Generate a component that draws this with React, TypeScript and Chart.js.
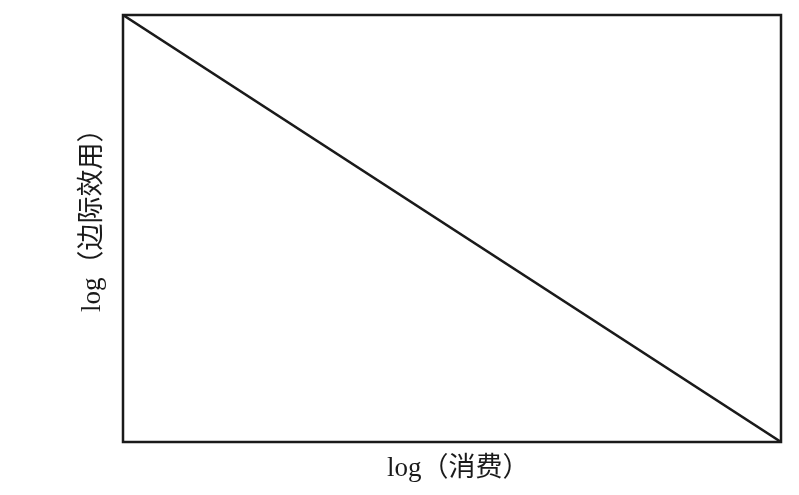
import React, { useEffect, useRef } from "react";
import { Chart, registerables } from "chart.js";

Chart.register(...registerables);

// Data: a straight decreasing line in log-log space
const logConsumption = [0, 1];
const logMarginalUtility = [1, 0];
const xTitle = "log（消费）";
const yTitle = "log（边际效用）";

const FONT = "27px 'Liberation Serif', 'Times New Roman', 'Noto Sans CJK SC', serif";

const frameAndTitles = {
  id: "frameAndTitles",
  afterDatasetsDraw(chart: any) {
    const { ctx, chartArea } = chart;
    const { left, top, right, bottom } = chartArea;
    ctx.save();
    ctx.strokeStyle = "#1a1a1a";
    ctx.lineWidth = 2.5;
    ctx.strokeRect(left, top, right - left, bottom - top);

    ctx.fillStyle = "#1a1a1a";
    ctx.font = FONT;
    ctx.textAlign = "left";
    ctx.textBaseline = "alphabetic";
    ctx.fillText(xTitle, left + 264, bottom + 34);

    ctx.translate(left - 23, bottom - 130);
    ctx.rotate(-Math.PI / 2);
    ctx.fillText(yTitle, 0, 0);
    ctx.restore();
  },
};

export default function App() {
  const canvasRef = useRef<HTMLCanvasElement | null>(null);

  useEffect(() => {
    document.body.style.margin = "0";
    const canvas = canvasRef.current;
    if (!canvas) return;
    const chart = new Chart(canvas, {
      type: "scatter",
      data: {
        datasets: [
          {
            data: logConsumption.map((x, i) => ({ x, y: logMarginalUtility[i] })),
            showLine: true,
            borderColor: "#1a1a1a",
            borderWidth: 2.5,
            pointRadius: 0,
            fill: false,
          },
        ],
      },
      options: {
        animation: false,
        responsive: false,
        devicePixelRatio: 1,
        layout: { padding: { left: 123, top: 15, right: 18, bottom: 53 } },
        plugins: { legend: { display: false }, tooltip: { enabled: false } },
        scales: {
          x: { type: "linear", min: 0, max: 1, display: false },
          y: { type: "linear", min: 0, max: 1, display: false },
        },
      },
      plugins: [frameAndTitles],
    });
    return () => chart.destroy();
  }, []);

  return (
    <div style={{ width: 799, height: 495, background: "#fff" }}>
      <canvas ref={canvasRef} width={799} height={495} style={{ display: "block" }} />
    </div>
  );
}
